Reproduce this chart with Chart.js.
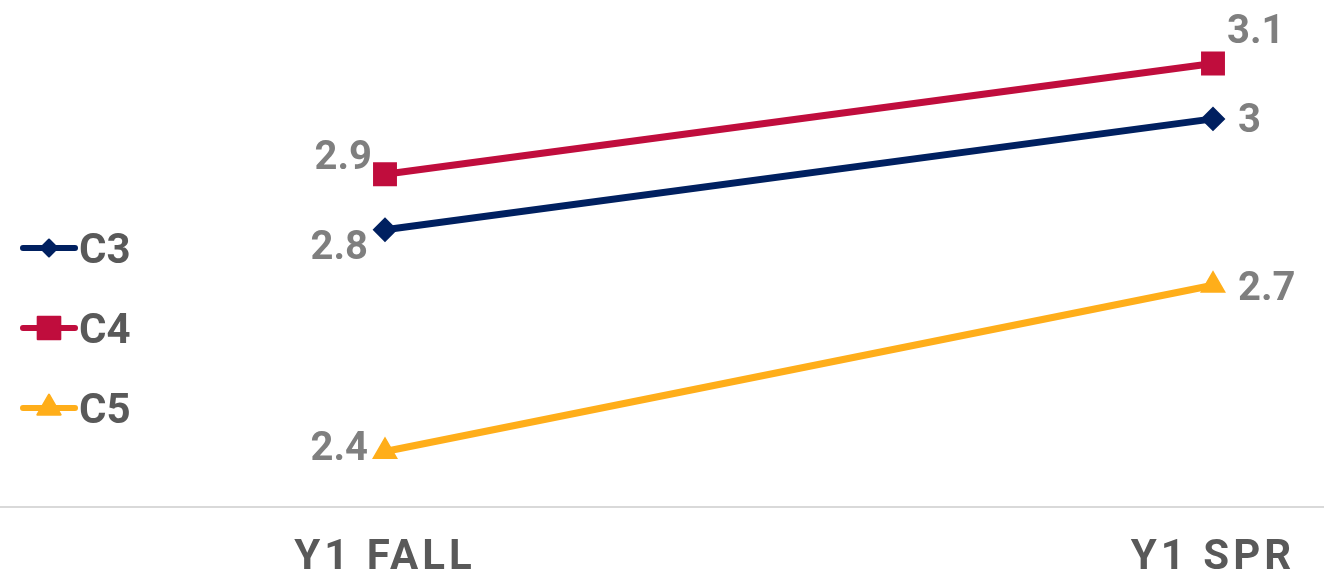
<!DOCTYPE html>
<html>
<head>
<meta charset="utf-8">
<style>
  html, body { margin: 0; padding: 0; background: #fff; }
  #wrap { position: relative; width: 1324px; height: 576px; }
</style>
</head>
<body>
<div id="wrap"><canvas id="chart"></canvas></div>
<script src="https://cdn.jsdelivr.net/npm/chart.js"></script>
<script>
// data
const terms = ["Y1 FALL", "Y1 SPR"];
const seriesNames = ["C3", "C4", "C5"];
const c3Values = [2.8, 3.0];
const c4Values = [2.9, 3.1];
const c5Values = [2.4, 2.7];
const yMin = 2.3;
const yMax = 3.2;

// styles
const colors = { C3: "#002060", C4: "#C00D3D", C5: "#FFAE1A" };
const markers = { C3: "rectRot", C4: "rect", C5: "triangle" };
const markerSize = { C3: 11, C4: 15.5, C5: 13 };
const legendMarkerSize = { C3: 8.5, C4: 16, C5: 13.5 };
const labelGray = "#7F7F7F";
const darkGray = "#595959";
const FONT = "Roboto, 'Noto Sans', sans-serif";

// where each value label sits next to its point
const labelPlace = {
  C3: [{ side: "left", dx: -17, dy: 15 }, { side: "right", dx: 25, dy: -1 }],
  C4: [{ side: "left", dx: -13, dy: -19 }, { side: "right", dx: 14, dy: -34 }],
  C5: [{ side: "left", dx: -17, dy: -6 }, { side: "right", dx: 25, dy: 1 }],
};

const valuesByName = { C3: c3Values, C4: c4Values, C5: c5Values };

const datasets = seriesNames.map((name) => ({
  label: name,
  data: valuesByName[name],
  borderColor: colors[name],
  backgroundColor: colors[name],
  borderWidth: 7,
  pointStyle: markers[name],
  pointRadius: markerSize[name],
  pointHoverRadius: markerSize[name],
  pointBackgroundColor: colors[name],
  pointBorderColor: colors[name],
  pointBorderWidth: 2,
  tension: 0,
  fill: false,
  clip: false,
}));

const valueLabels = {
  id: "valueLabels",
  afterDatasetsDraw(chart) {
    const ctx = chart.ctx;
    ctx.save();
    ctx.letterSpacing = "0px";
    ctx.font = "bold 40px " + FONT;
    ctx.fillStyle = labelGray;
    ctx.textBaseline = "alphabetic";
    chart.data.datasets.forEach((ds, i) => {
      const meta = chart.getDatasetMeta(i);
      meta.data.forEach((pt, j) => {
        const place = labelPlace[ds.label][j];
        ctx.textAlign = place.side === "left" ? "right" : "left";
        ctx.fillText(String(ds.data[j]), pt.x + place.dx, pt.y + place.dy + 14);
      });
    });
    ctx.restore();
  },
};

const baseLine = {
  id: "baseLine",
  beforeDraw(chart) {
    // wider x tick labels
    chart.ctx.letterSpacing = "4px";
  },
  beforeDatasetsDraw(chart) {
    const ctx = chart.ctx;
    ctx.letterSpacing = "0px";
    const y = chart.scales.x.top;
    ctx.save();
    ctx.strokeStyle = "#D9D9D9";
    ctx.lineWidth = 2;
    ctx.beginPath();
    ctx.moveTo(0, y);
    ctx.lineTo(chart.width, y);
    ctx.stroke();
    ctx.restore();
  },
};

const sideLegend = {
  id: "sideLegend",
  afterDraw(chart) {
    const ctx = chart.ctx;
    ctx.save();
    ctx.letterSpacing = "0px";
    chart.data.datasets.forEach((ds, i) => {
      const y = 248 + i * 80;
      ctx.strokeStyle = ds.borderColor;
      ctx.fillStyle = ds.borderColor;
      ctx.lineWidth = 6;
      ctx.lineCap = "round";
      ctx.beginPath();
      ctx.moveTo(23, y);
      ctx.lineTo(75, y);
      ctx.stroke();
      ctx.lineWidth = 2;
      ctx.lineJoin = "round";
      Chart.helpers.drawPoint(ctx, {
        pointStyle: ds.pointStyle,
        radius: legendMarkerSize[ds.label],
        rotation: 0,
        borderWidth: 2,
      }, 49, y);
      ctx.fillStyle = darkGray;
      ctx.font = "bold 42px " + FONT;
      ctx.textAlign = "left";
      ctx.textBaseline = "alphabetic";
      ctx.fillText(ds.label, 79, y + 15);
    });
    ctx.restore();
  },
};

new Chart(document.getElementById("chart"), {
  type: "line",
  data: { labels: terms, datasets: datasets },
  options: {
    responsive: true,
    maintainAspectRatio: false,
    animation: false,
    layout: {
      autoPadding: false,
      padding: { left: 385, right: 111, top: 8, bottom: -33 },
    },
    plugins: {
      legend: { display: false },
      tooltip: { enabled: false },
    },
    scales: {
      x: {
        offset: false,
        grid: { display: false, drawTicks: false },
        border: { display: false },
        ticks: {
          color: darkGray,
          font: { family: FONT, size: 42, weight: "bold", lineHeight: 1 },
          padding: 30,
          maxRotation: 0,
        },
      },
      y: {
        display: false,
        min: yMin,
        max: yMax,
      },
    },
  },
  plugins: [baseLine, valueLabels, sideLegend],
});
</script>
</body>
</html>
